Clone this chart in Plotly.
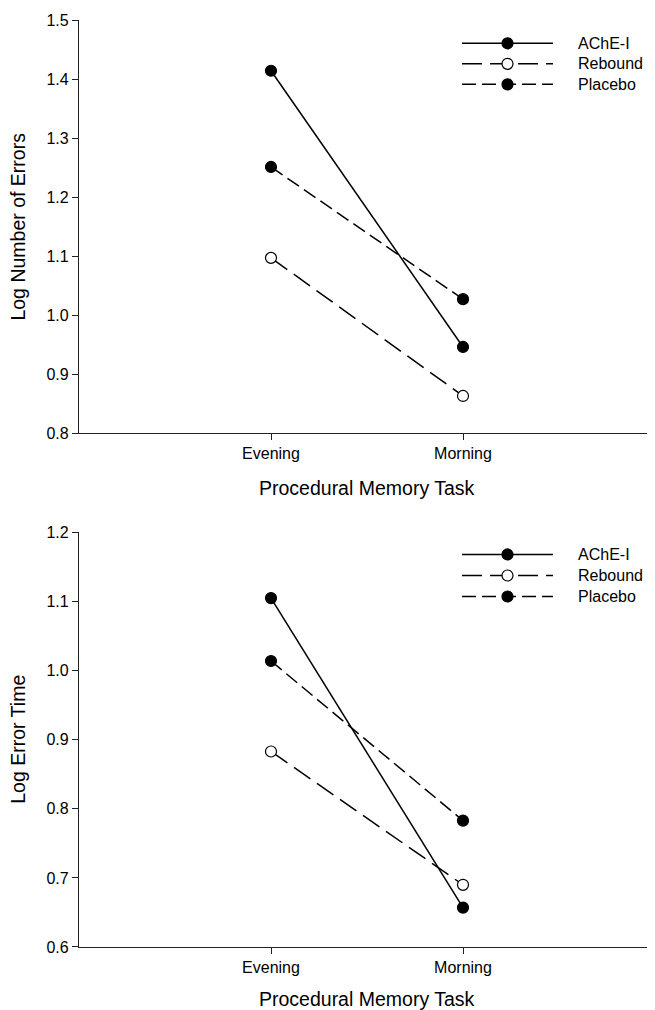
import plotly.graph_objects as go

categories = ["Evening", "Morning"]
series_names = ["AChE-I", "Rebound", "Placebo"]

# Top panel: Log Number of Errors
errors_ache = [1.414, 0.946]
errors_rebound = [1.097, 0.863]
errors_placebo = [1.251, 1.027]

# Bottom panel: Log Error Time
time_ache = [1.105, 0.657]
time_rebound = [0.883, 0.690]
time_placebo = [1.014, 0.783]

top_ticks = [0.8, 0.9, 1.0, 1.1, 1.2, 1.3, 1.4, 1.5]
bottom_ticks = [0.6, 0.7, 0.8, 0.9, 1.0, 1.1, 1.2]

FONT = "Liberation Sans, Arial, sans-serif"
styles = {
    "AChE-I": dict(dash="solid", fill="black"),
    "Rebound": dict(dash="20px,8px", fill="white"),
    "Placebo": dict(dash="14px,6px", fill="black"),
}

# page body has an 8px margin; work in reference pixel coordinates and shift
OFF = 8
W, H = 655 - OFF, 1010 - OFF
AX_L, AX_R = 79, 655          # plot area in reference pixels
AX_T, AX_B = 20, 946.7
ML = AX_L - OFF
MR = 0
MT = AX_T - OFF
MB = (1010 - AX_B)
plot_h = AX_B - AX_T
plot_w = AX_R - AX_L


def py(y):
    return (AX_B - y) / plot_h


def px(x):
    return (x - AX_L) / plot_w


fig = go.Figure()

panels = [
    ("x", "y", [errors_ache, errors_rebound, errors_placebo]),
    ("x2", "y2", [time_ache, time_rebound, time_placebo]),
]
for xa, ya, data in panels:
    for name, vals in zip(series_names, data):
        st = styles[name]
        fig.add_trace(go.Scatter(
            x=categories, y=vals, xaxis=xa, yaxis=ya, mode="lines+markers",
            name=name, showlegend=False,
            line=dict(color="black", width=1.5, dash=st["dash"]),
            marker=dict(size=11, color=st["fill"], line=dict(color="black", width=1.2)),
        ))

# custom legends (long line samples)
legend_axes = [("x3", "y3"), ("x4", "y4")]
for xa, ya in legend_axes:
    for i, name in enumerate(series_names):
        st = styles[name]
        fig.add_trace(go.Scatter(
            x=[0, 1], y=[i, i], xaxis=xa, yaxis=ya, mode="lines",
            showlegend=False, hoverinfo="skip",
            line=dict(color="black", width=1.5, dash=st["dash"]),
        ))
        fig.add_trace(go.Scatter(
            x=[0.5], y=[i], xaxis=xa, yaxis=ya, mode="markers",
            showlegend=False, hoverinfo="skip",
            marker=dict(size=11, color=st["fill"], line=dict(color="black", width=1.2)),
        ))
        fig.add_annotation(
            x=px(576), y=i, xref="paper", yref=ya, text=name, showarrow=False,
            xanchor="left", yanchor="middle", font=dict(size=16, color="black", family=FONT),
        )

axis_common = dict(
    showline=True, linecolor="#222", linewidth=1.2, showgrid=False, zeroline=False,
    ticks="outside", ticklen=6, tickcolor="#222", tickwidth=1,
    tickfont=dict(size=16, color="black", family=FONT),
)

top_dom = [py(433), 1.0]
bot_dom = [0.0, py(532.3)]

fig.update_layout(
    width=W, height=H,
    margin=dict(l=ML, r=MR, t=MT, b=MB),
    paper_bgcolor="white", plot_bgcolor="white",
    font=dict(family=FONT, color="black"),
    showlegend=False,
    xaxis=dict(axis_common, type="category", range=[-1, 2], anchor="y"),
    yaxis=dict(axis_common, range=[0.8, 1.5], tickvals=top_ticks,
               ticktext=[f"{v:.1f}" for v in top_ticks], domain=top_dom, anchor="x"),
    xaxis2=dict(axis_common, type="category", range=[-1, 2], anchor="y2"),
    yaxis2=dict(axis_common, range=[0.6, 1.2], tickvals=bottom_ticks,
                ticktext=[f"{v:.1f}" for v in bottom_ticks], domain=bot_dom, anchor="x2"),
    xaxis3=dict(domain=[px(462), px(553)], range=[0, 1], visible=False, anchor="y3"),
    yaxis3=dict(domain=[py(94.55), py(33.05)], range=[2.5, -0.5], visible=False, anchor="x3"),
    xaxis4=dict(domain=[px(462), px(553)], range=[0, 1], visible=False, anchor="y4"),
    yaxis4=dict(domain=[py(606.8), py(543.8)], range=[2.5, -0.5], visible=False, anchor="x4"),
)

title_font = dict(size=19.5, color="black", family=FONT)
fig.add_annotation(x=px(367), y=py(488), xref="paper", yref="paper",
                   text="Procedural Memory Task", showarrow=False,
                   xanchor="center", yanchor="middle", font=title_font)
fig.add_annotation(x=px(367), y=py(999), xref="paper", yref="paper",
                   text="Procedural Memory Task", showarrow=False,
                   xanchor="center", yanchor="middle", font=title_font)
fig.add_annotation(x=px(18), y=py(226.5), xref="paper", yref="paper",
                   text="Log Number of Errors", showarrow=False, textangle=-90,
                   xanchor="center", yanchor="middle", font=title_font)
fig.add_annotation(x=px(18), y=py(739.5), xref="paper", yref="paper",
                   text="Log Error Time", showarrow=False, textangle=-90,
                   xanchor="center", yanchor="middle", font=title_font)

fig.write_html("out.html")
